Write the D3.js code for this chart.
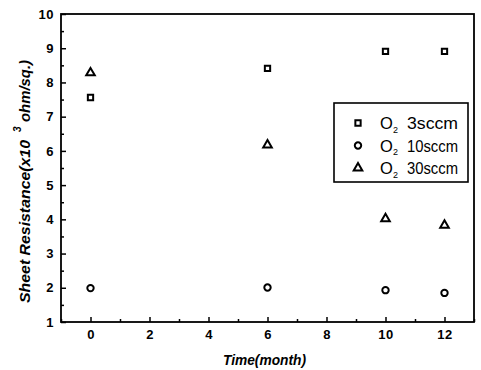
<!DOCTYPE html>
<html>
<head>
<meta charset="utf-8">
<script src="https://cdn.jsdelivr.net/npm/d3@7"></script>
<style>
body { margin: 0; background: #fff; }
svg text { font-family: "Liberation Sans", Arial, sans-serif; }
</style>
</head>
<body>
<div id="chart"></div>
<script>
// data
var months = [0, 6, 10, 12];
var o2_3sccm = [7.56, 8.41, 8.91, 8.91];
var o2_10sccm = [1.99, 2.01, 1.93, 1.85];
var o2_30sccm = [8.28, 6.17, 4.02, 3.83];
var xTicks = [0, 2, 4, 6, 8, 10, 12];
var yTicks = [1, 2, 3, 4, 5, 6, 7, 8, 9, 10];
var seriesNames = ["3sccm", "10sccm", "30sccm"];

var W = 481, H = 370;
var margin = {left: 61, right: 7, top: 14, bottom: 48};

var svg = d3.select("#chart").append("svg").attr("width", W).attr("height", H);

var x = d3.scaleLinear().domain([-1, 13]).range([margin.left, W - margin.right]);
var y = d3.scaleLinear().domain([1, 10]).range([H - margin.bottom, margin.top]);

// minor ticks
svg.append("g").attr("transform", "translate(0," + (H - margin.bottom) + ")")
   .call(d3.axisBottom(x).tickValues(d3.range(-1, 14, 2)).tickSizeInner(-3).tickSizeOuter(0).tickFormat(""))
   .call(g => g.select(".domain").remove())
   .selectAll("line").attr("stroke-width", 1.5);
svg.append("g").attr("transform", "translate(" + margin.left + ",0)")
   .call(d3.axisLeft(y).tickValues(d3.range(1.5, 10, 1)).tickSizeInner(-3).tickSizeOuter(0).tickFormat(""))
   .call(g => g.select(".domain").remove())
   .selectAll("line").attr("stroke-width", 1.5);

// major axes
var xAxis = svg.append("g").attr("transform", "translate(0," + (H - margin.bottom) + ")")
   .call(d3.axisBottom(x).tickValues(xTicks).tickSizeInner(-5).tickSizeOuter(0).tickPadding(8));
var yAxis = svg.append("g").attr("transform", "translate(" + margin.left + ",0)")
   .call(d3.axisLeft(y).tickValues(yTicks).tickSizeInner(-5).tickSizeOuter(0).tickPadding(7));
[xAxis, yAxis].forEach(function(a) {
    a.select(".domain").remove();
    a.selectAll("line").attr("stroke-width", 1.5);
    a.selectAll("text").attr("font-size", 13).attr("font-weight", "bold")
     .attr("letter-spacing", 0.5)
     .attr("font-family", "'Liberation Sans', Arial, sans-serif").attr("fill", "#000");
});

// frame
svg.append("rect").attr("x", x(-1)).attr("y", y(10))
   .attr("width", x(13) - x(-1)).attr("height", y(1) - y(10))
   .attr("fill", "none").attr("stroke", "#000").attr("stroke-width", 1.8);

// axis titles
svg.append("text").attr("x", 264.5).attr("y", 365)
   .attr("text-anchor", "middle").attr("font-size", 14)
   .attr("font-weight", "bold").attr("font-style", "italic")
   .attr("textLength", 83).attr("lengthAdjust", "spacingAndGlyphs")
   .text("Time(month)");

var yt = svg.append("g").attr("transform", "translate(30,0) rotate(-90)")
   .attr("font-weight", "bold").attr("font-style", "italic");
yt.append("text").attr("x", -303).attr("y", 0).attr("font-size", 15)
  .attr("textLength", 163).attr("lengthAdjust", "spacingAndGlyphs")
  .text("Sheet Resistance(x10");
yt.append("text").attr("x", -132).attr("y", -9).attr("font-size", 10).text("3");
yt.append("text").attr("x", -122).attr("y", 0).attr("font-size", 15)
  .attr("textLength", 62).attr("lengthAdjust", "spacingAndGlyphs")
  .text("ohm/sq.)");

// marker shapes
var sym = [d3.symbolSquare, d3.symbolCircle, d3.symbolTriangle];
var sizes = [28, 32, 32];
function marker(g, i, cx, cy) {
    g.append("path")
     .attr("d", d3.symbol().type(sym[i]).size(sizes[i])())
     .attr("transform", "translate(" + cx + "," + cy + ")")
     .attr("fill", "none").attr("stroke", "#000").attr("stroke-width", 2);
}

var allSeries = [o2_3sccm, o2_10sccm, o2_30sccm];
allSeries.forEach(function(vals, i) {
    var g = svg.append("g");
    vals.forEach(function(v, j) { marker(g, i, x(months[j]), y(v)); });
});

// legend
var lg = svg.append("g");
lg.append("rect").attr("x", 334).attr("y", 103).attr("width", 134).attr("height", 79)
  .attr("fill", "#fff").attr("stroke", "#000").attr("stroke-width", 1.6);
seriesNames.forEach(function(name, i) {
    var ly = 123 + i * 22.5;
    marker(lg, i, 358, ly);
    lg.append("text").attr("x", 380).attr("y", ly + 6).attr("font-size", 16.5).text("O");
    lg.append("text").attr("x", 393).attr("y", ly + 9.5).attr("font-size", 9).text("2");
    lg.append("text").attr("x", 407).attr("y", ly + 6).attr("font-size", 16)
      .attr("textLength", 51).attr("lengthAdjust", "spacingAndGlyphs").text(name);
});
</script>
</body>
</html>
